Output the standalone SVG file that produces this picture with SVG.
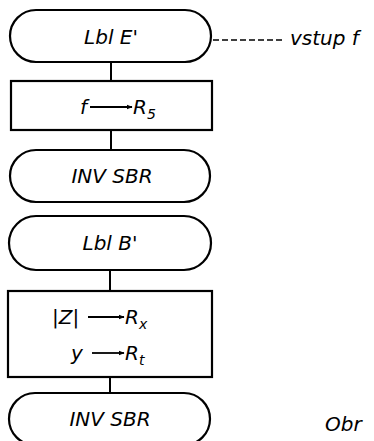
<svg xmlns="http://www.w3.org/2000/svg" width="374" height="441" viewBox="0 0 374 441">
<defs>
<style>
.shape{fill:none;stroke:#000;stroke-width:2.2}
.conn{stroke:#000;stroke-width:2;fill:none}
.t{font-family:"DejaVu Sans","Liberation Sans",sans-serif;font-style:italic;font-size:20px;fill:#000}
.arr{stroke:#000;stroke-width:1.8;fill:none}
</style>
<marker id="ah" viewBox="0 0 10 10" refX="9" refY="5" markerWidth="6" markerHeight="6" orient="auto" markerUnits="userSpaceOnUse">
<path d="M0,1 L10,5 L0,9 z" fill="#000"/>
</marker>
</defs>
<rect width="374" height="441" fill="#fff"/>
<g id="connectors">
<line class="conn" x1="111" y1="62" x2="111" y2="81"/>
<line class="conn" x1="111" y1="130" x2="111" y2="150"/>
<line class="conn" x1="110" y1="270" x2="110" y2="291"/>
<line class="conn" x1="110" y1="377" x2="110" y2="393"/>
<line x1="213" y1="40" x2="285" y2="40" stroke="#000" stroke-width="1.6" stroke-dasharray="6,3"/>
</g>
<g id="n1">
<rect class="shape" x="10" y="10" width="201" height="52" rx="26" ry="26"/>
<text class="t" x="111" y="44" text-anchor="middle">Lbl E'</text>
</g>
<g id="input-label">
<text class="t" x="290" y="45">vstup f</text>
</g>
<g id="n2">
<rect class="shape" x="11" y="81" width="201" height="49"/>
<text class="t" x="80" y="114">f</text>
<line class="arr" x1="90" y1="107" x2="132" y2="107" marker-end="url(#ah)"/>
<text class="t" x="133" y="114">R<tspan font-size="14" dy="5">5</tspan></text>
</g>
<g id="n3">
<rect class="shape" x="10" y="150" width="200" height="52" rx="26" ry="26"/>
<text class="t" x="112" y="183" text-anchor="middle">INV SBR</text>
</g>
<g id="n4">
<rect class="shape" x="9" y="216" width="202" height="54" rx="27" ry="27"/>
<text class="t" x="110" y="250" text-anchor="middle">Lbl B'</text>
</g>
<g id="n5">
<rect class="shape" x="8" y="291" width="204" height="86"/>
<text class="t" x="52" y="324">|Z|</text>
<line class="arr" x1="88" y1="317" x2="124" y2="317" marker-end="url(#ah)"/>
<text class="t" x="125" y="324">R<tspan font-size="14" dy="5">x</tspan></text>
<text class="t" x="71" y="360">y</text>
<line class="arr" x1="92" y1="353" x2="124" y2="353" marker-end="url(#ah)"/>
<text class="t" x="125" y="360">R<tspan font-size="14" dy="5">t</tspan></text>
</g>
<g id="n6">
<rect class="shape" x="9" y="393" width="201" height="52" rx="26" ry="26"/>
<text class="t" x="110" y="426" text-anchor="middle">INV SBR</text>
</g>
<g id="caption">
<text class="t" x="325" y="431" font-size="27">Obr</text>
</g>
</svg>
